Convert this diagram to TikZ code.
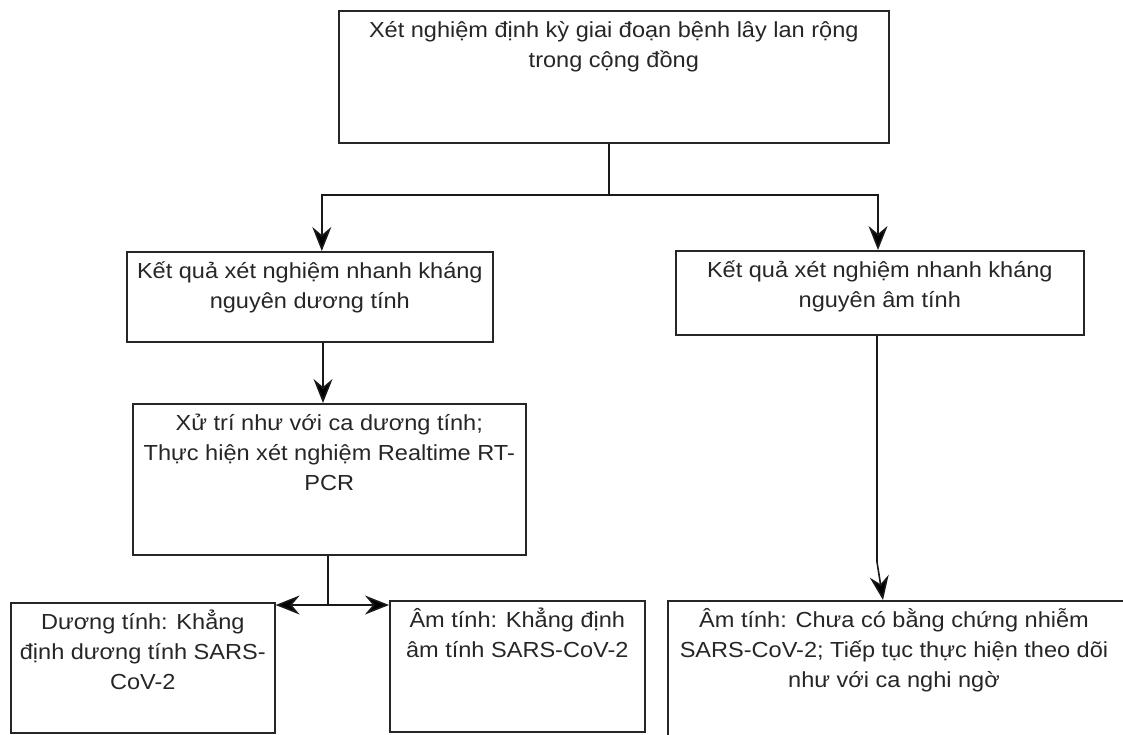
\documentclass[tikz,border=0pt]{standalone}
\usepackage{fontspec}
\setmainfont{Liberation Sans}[FakeStretch=1.08]
\usetikzlibrary{arrows.meta}
\newcommand\fstrut{\rule{0pt}{22pt}}
\begin{document}
\begin{tikzpicture}[x=1pt,y=-1pt,
  box/.style={draw=black!85,line width=1.6pt,anchor=north west,inner sep=0pt},
  txt/.style={anchor=north,align=center,font=\fontsize{21.8}{30}\selectfont,inner sep=0pt,text=black!85},
  arr/.style={line width=1.6pt,draw=black!90,-{Stealth[length=24pt,width=19pt,inset=8pt,fill=black]}},
  ln/.style={line width=1.6pt,draw=black!90}]
\useasboundingbox (0,0) rectangle (1123,734);
% boxes
\node[box,minimum width=550,minimum height=132] (top) at (338,10) {};
\node[box,minimum width=366,minimum height=90] (pos) at (126,251) {};
\node[box,minimum width=408,minimum height=84] (neg) at (675,250) {};
\node[box,minimum width=393,minimum height=151] (pcr) at (132,403) {};
\node[box,minimum width=264,minimum height=130] (dp) at (10,602) {};
\node[box,minimum width=255,minimum height=131] (da) at (389,600) {};
\node[box,minimum width=470,minimum height=150] (am) at (667,600) {};
% texts
\node[txt] (ttop) at ([yshift=-5]top.north) {\fstrut Xét nghiệm định kỳ giai đoạn bệnh lây lan rộng\\trong cộng đồng};
\node[txt] (tpos) at ([yshift=-5]pos.north) {\fstrut Kết quả xét nghiệm nhanh kháng\\nguyên dương tính};
\node[txt] (tneg) at ([yshift=-5]neg.north) {\fstrut Kết quả xét nghiệm nhanh kháng\\nguyên âm tính};
\node[txt] (tpcr) at ([yshift=-5]pcr.north) {\fstrut Xử trí như với ca dương tính;\\Thực hiện xét nghiệm Realtime RT-\\PCR};
\node[txt] (tdp) at ([yshift=-5]dp.north) {\fstrut Dương tính: Khẳng\\định dương tính SARS-\\CoV-2};
\node[txt] (tda) at ([yshift=-5]da.north) {\fstrut Âm tính: Khẳng định\\âm tính SARS-CoV-2};
\node[txt] (tam) at ([yshift=-5]am.north -| 894,0) {\fstrut Âm tính: Chưa có bằng chứng nhiễm\\SARS-CoV-2; Tiếp tục thực hiện theo dõi\\như với ca nghi ngờ};
% connectors
\coordinate (j1) at (609,195);
\coordinate (j2) at (328,605);
\coordinate (k1) at (877,562);
\draw[ln] (top.south -| j1) -- (j1);
\draw[arr] (j1) -| ([xshift=12]pos.north);
\draw[arr] (j1) -| (neg.north -| 878,0);
\draw[arr] (pos.south -| 323,0) -- (pcr.north -| 323,0);
\draw[ln] (pcr.south -| j2) -- (j2);
\draw[arr] (j2) -- (dp.east |- j2);
\draw[arr] (j2) -- (da.west |- j2);
\draw[ln] (neg.south -| k1) -- (k1);
\draw[arr] (k1) -- (am.north -| 883,0);
\end{tikzpicture}
\end{document}
